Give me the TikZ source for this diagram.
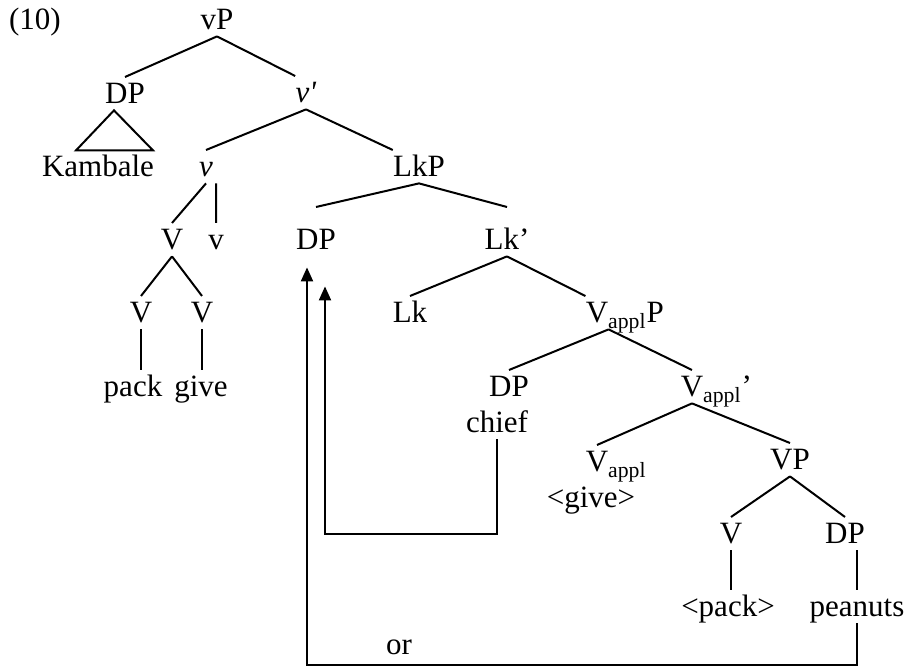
\documentclass[tikz,border=0pt]{standalone}
\usepackage{fontspec}
\setmainfont{Liberation Serif}
\usetikzlibrary{arrows.meta}

\begin{document}
\begin{tikzpicture}[x=0.5pt,y=-0.5pt,
  every node/.style={anchor=base,inner xsep=0pt,inner ysep=3pt,text height=10.3pt,text depth=0pt,font=\fontsize{15.5}{18}\selectfont},
  move/.style={line width=1pt,-{Triangle[length=7pt,width=6pt]}}]
\useasboundingbox (0,0) rectangle (906,667);

\node(ex) at (35,30) {(10)};
\node(vP) at (217,30) {vP};
\node(DPa) at (125,104) {DP};
\node(Kam) at (98,177) {Kambale};
\node(vbar) at (306,103) {\textit{v\textquotesingle}};
\node(vhead) at (206,177) {\textit{v}};
\node(LkP) at (419,177) {LkP};

\node(Va) at (172,250) {V};
\node(vlight) at (216,250) {v};
\node(Vb) at (141,323) {V};
\node(Vc) at (202,323) {V};
\node(pack) at (133,397) {pack};
\node(give) at (201,397) {give};

\node(DPb) at (316,250) {DP};
\node(Lkbar) at (507,250) {Lk’};
\node(Lk) at (410,323) {Lk};
\node(VaP) at (597,323) {V\rlap{\textsubscript{appl}P}};
\node(DPc) at (509,397) {DP};
\node(chief) at (497,433) {chief};
\node(Vabar) at (692,397) {V\rlap{\textsubscript{appl}’}};
\node(Vappl) at (597,472) {V\rlap{\textsubscript{appl}}};
\node(givetr) at (591,508) {<give>};
\node(VP) at (790,470) {VP};
\node(Vd) at (731,544) {V};
\node(DPd) at (845,544) {DP};
\node(packtr) at (728,617) {<pack>};
\node(peanuts) at (857,617) {peanuts};
\node(or) at (399,655) {or};

\draw[line width=1pt] (vP.south) -- (DPa.north) (vP.south) -- (vbar.north west);
\draw[line width=1pt] (DPa.south) ++(-11,0) -- ++(-38,40) -- ++(77,0) -- cycle;
\draw[line width=1pt] (vbar.south) -- (vhead.north) (vbar.south) -- (LkP.north west);
\draw[line width=1pt] (vhead.south) -- (Va.north) (vlight.north |- vhead.south) -- (vlight.north);
\draw[line width=1pt] (Va.south) -- (Vb.north) (Va.south) -- (Vc.north);
\draw[line width=1pt] (Vb.south) -- (Vb.south |- pack.north) (Vc.south) -- (Vc.south |- give.north);

\draw[line width=1pt] (LkP.south) -- ([yshift=8pt]DPb.north) (LkP.south) -- ([yshift=8pt]Lkbar.north);
\draw[line width=1pt] (Lkbar.south) -- (Lk.north) (Lkbar.south) -- (VaP.north west);
\draw[line width=1pt] (VaP.south east) -- (DPc.north) (VaP.south east) -- (Vabar.north);
\draw[line width=1pt] (Vabar.south) -- (Vappl.north) (Vabar.south) -- (VP.north);
\draw[line width=1pt] (VP.south) -- (Vd.north) (VP.south) -- (DPd.north);
\draw[line width=1pt] (Vd.south) -- (Vd.south |- packtr.north) (peanuts.north |- DPd.south) -- (peanuts.north);

\draw[move] (chief.south) -- ++(0,95) -| ([xshift=4.5pt,yshift=-15pt]DPb.south);
\draw[move] (peanuts.south) -- ++(0,42) -| ([xshift=-4.5pt,yshift=-5.5pt]DPb.south);

\end{tikzpicture}
\end{document}
